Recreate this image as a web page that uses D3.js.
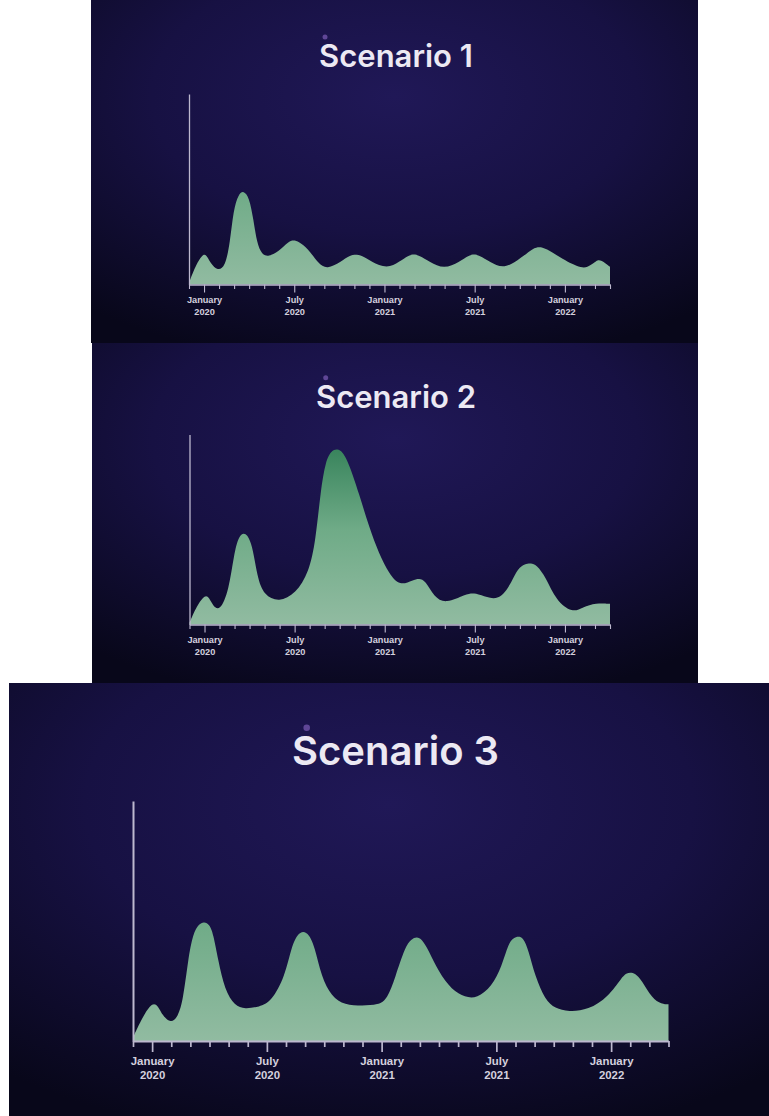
<!DOCTYPE html>
<html>
<head>
<meta charset="utf-8">
<script src="https://cdn.jsdelivr.net/npm/d3@7"></script>
<style>
  html, body { margin: 0; padding: 0; background: #ffffff; }
  svg { display: block; }
</style>
</head>
<body>
<svg id="chart" width="769" height="1116"></svg>
<script>
// ---------------- DATA ----------------
// x = months since January 2020 (Dec 2019 = -1, Apr 2022 = 27); y = relative level (0-100 of axis height)
const titles = ["Scenario 1", "Scenario 2", "Scenario 3"];

const scenario1Months = [-1, -0.5, -0.15, 0.02, 0.2, 0.45, 0.9, 1.4, 1.73, 1.95, 2.29, 2.62, 3.0, 3.29, 3.51, 3.84, 4.29, 5.0, 5.6, 5.95, 6.3, 6.9, 7.6, 8.18, 9.1, 9.7, 10.07, 10.5, 11.1, 12.18, 13.0, 13.6, 13.95, 14.3, 15.0, 15.96, 17.0, 17.6, 17.96, 18.3, 19.0, 19.96, 21.1, 21.9, 22.3, 22.7, 23.8, 25.18, 25.7, 26.1, 26.25, 26.45, 26.7, 27];
const scenario1Values = [1, 11, 15, 15.9, 15, 11, 7.3, 9, 22, 39, 47.5, 49.3, 46, 34, 22, 15.7, 14.5, 17.5, 22.5, 23.3, 22.5, 19, 11, 7.9, 12, 15.2, 15.8, 15.2, 12, 8.2, 12, 15.3, 16, 15.3, 12, 7.9, 12, 15.3, 16, 15.3, 12, 7.9, 14, 19.2, 19.8, 19.2, 13.5, 7.9, 10, 12.5, 12.8, 12.5, 11, 9.3];

const scenario2Months = [-1, -0.5, -0.1, 0.11, 0.3, 0.55, 1.02, 1.62, 1.96, 2.29, 2.73, 3.18, 3.51, 3.96, 4.96, 6.07, 6.96, 7.4, 7.73, 8.07, 8.45, 8.84, 9.2, 9.62, 10.29, 10.96, 11.62, 12.29, 13.0, 13.9, 14.29, 14.7, 15.29, 16.07, 17.4, 17.84, 18.3, 19.62, 20.51, 20.84, 21.35, 21.73, 22.1, 22.73, 23.4, 24.51, 25.18, 26.07, 27];
const scenario2Values = [1, 10, 14.2, 15.2, 14.2, 10, 6.8, 17.9, 37, 47, 48.8, 42.5, 24.9, 15.3, 11.7, 16.2, 27.5, 44.2, 70.5, 86.3, 91.5, 92.5, 91, 84.6, 68.8, 51.2, 37.2, 26.7, 20.2, 23.5, 24.3, 23.2, 14.4, 10.9, 16, 16.5, 16, 11.7, 23.2, 29.3, 31.9, 32.3, 31.5, 24.9, 12.6, 6, 9.1, 11.4, 10.9];

const scenario3Months = [-1, -0.5, -0.1, 0.1, 0.3, 0.55, 0.98, 1.35, 1.62, 1.88, 2.14, 2.45, 2.72, 3.0, 3.19, 3.45, 3.8, 4.32, 4.85, 5.6, 6.24, 6.94, 7.29, 7.6, 7.9, 8.2, 8.5, 8.85, 9.38, 10.07, 11.0, 11.82, 12.3, 12.71, 13.23, 13.55, 13.84, 14.1, 14.45, 14.97, 15.67, 16.37, 16.98, 17.76, 18.28, 18.63, 18.9, 19.15, 19.4, 19.68, 20.03, 20.55, 21.07, 21.77, 22.81, 23.86, 24.56, 24.8, 25.0, 25.25, 25.6, 26.13, 26.65, 27];
const scenario3Values = [1.5, 10, 14.8, 15.6, 14.8, 10.5, 7.4, 10, 17.1, 33.8, 44.9, 48.8, 49.8, 48.5, 44.9, 33.8, 21.2, 14.6, 13.3, 14.2, 16.4, 26.8, 39.3, 44.5, 45.9, 44.5, 39.3, 26.8, 18.5, 15, 14.7, 15, 17.5, 26.5, 39.3, 42.5, 43.5, 42.5, 37.9, 28.9, 21.2, 18.2, 17.8, 22.6, 31, 40.7, 43, 43.6, 43, 37.9, 26.8, 17.1, 13.6, 12.2, 12.9, 18.5, 26.5, 28.2, 28.6, 28.2, 25.4, 17.8, 15.3, 15.3];

const monthTicks = d3.range(-1, 28);             // every month, Dec 2019 .. Apr 2022
const labelMonths = [0, 6, 12, 18, 24];
const labelTop = ["January", "July", "January", "July", "January"];
const labelBottom = ["2020", "2020", "2021", "2021", "2022"];
const xDomain = [-1, 27];
const yDomain = [0, 100];

// ---------------- LAYOUT ----------------
const panels = [
  { months: scenario1Months, values: scenario1Values, title: titles[0],
    rect: {x: 91, y: 0, w: 607, h: 343},
    x0: 189, x1: 610, yBase: 284.5, yTop: 94,
    titleX: 396, titleY: 67, titleSize: 31,
    tickFont: 9.2, dy1: 18, dy2: 30, minor: 4.5, major: 8, sw: 1.3,
    dot: {x: 325, y: 37, r: 2.5} },
  { months: scenario2Months, values: scenario2Values, title: titles[1],
    rect: {x: 92, y: 343, w: 606, h: 340},
    x0: 189.5, x1: 610, yBase: 624.5, yTop: 434.5,
    titleX: 396, titleY: 408, titleSize: 31,
    tickFont: 9.2, dy1: 18, dy2: 30, minor: 4.5, major: 8, sw: 1.3,
    dot: {x: 325.7, y: 377.7, r: 2.5} },
  { months: scenario3Months, values: scenario3Values, title: titles[2],
    rect: {x: 9, y: 683, w: 760, h: 433},
    x0: 133, x1: 668.5, yBase: 1041, yTop: 801,
    titleX: 395.5, titleY: 765, titleSize: 40,
    tickFont: 11.4, dy1: 24, dy2: 38, minor: 6, major: 11, sw: 2,
    dot: {x: 306.7, y: 727.7, r: 3.3} }
];

const svg = d3.select("#chart");
const defs = svg.append("defs");

panels.forEach((p, i) => {
  // background vignette
  const bg = defs.append("radialGradient").attr("id", "bg" + i)
    .attr("cx", "50%").attr("cy", "28%").attr("r", "80%");
  bg.append("stop").attr("offset", "0").attr("stop-color", "#201857");
  bg.append("stop").attr("offset", "0.5").attr("stop-color", "#171143");
  bg.append("stop").attr("offset", "1").attr("stop-color", "#08071a");

  const fg = defs.append("linearGradient").attr("id", "fill" + i)
    .attr("gradientUnits", "userSpaceOnUse")
    .attr("x1", 0).attr("x2", 0).attr("y1", p.yTop).attr("y2", p.yBase);
  fg.append("stop").attr("offset", "0").attr("stop-color", "#2f7d55");
  fg.append("stop").attr("offset", "0.5").attr("stop-color", "#6fab87");
  fg.append("stop").attr("offset", "1").attr("stop-color", "#91bba1");

  const g = svg.append("g");
  g.append("rect").attr("x", p.rect.x).attr("y", p.rect.y)
    .attr("width", p.rect.w).attr("height", p.rect.h)
    .attr("fill", `url(#bg${i})`);

  g.append("circle").attr("cx", p.dot.x).attr("cy", p.dot.y).attr("r", p.dot.r)
    .attr("fill", "#6b4fa3").attr("opacity", 0.85);

  g.append("text")
    .attr("x", p.titleX).attr("y", p.titleY)
    .attr("text-anchor", "middle")
    .attr("font-family", "Inter, 'Open Sans', sans-serif")
    .attr("font-weight", 600)
    .attr("font-size", p.titleSize)
    .attr("fill", "#ece9f3")
    .text(p.title);

  const x = d3.scaleLinear().domain(xDomain).range([p.x0, p.x1]);
  const y = d3.scaleLinear().domain(yDomain).range([p.yBase, p.yTop]);

  const data = p.months.map((m, k) => ({m, v: p.values[k]}));
  const area = d3.area()
    .x(d => x(d.m)).y0(y(0)).y1(d => y(d.v))
    .curve(d3.curveBasis);
  g.append("path").datum(data).attr("d", area).attr("fill", `url(#fill${i})`);

  // x axis
  const xAxis = d3.axisBottom(x).tickValues(monthTicks)
    .tickSize(p.minor).tickSizeOuter(0).tickFormat("");
  const ax = g.append("g").attr("transform", `translate(0,${p.yBase})`).call(xAxis);
  ax.select(".domain").attr("stroke", "#bdb8cf").attr("stroke-width", p.sw);
  ax.selectAll(".tick line").attr("stroke", "#bdb8cf").attr("stroke-width", p.sw * 0.85)
    .attr("y2", d => labelMonths.includes(d) ? p.major : p.minor);
  ax.selectAll(".tick text").remove();
  ax.selectAll(".tick").filter(d => labelMonths.includes(d)).each(function(d) {
    const k = labelMonths.indexOf(d);
    const t = d3.select(this).append("text")
      .attr("fill", "#d4d0de")
      .attr("font-family", "'Liberation Sans', Arial, sans-serif")
      .attr("font-weight", 700)
      .attr("font-size", p.tickFont)
      .attr("text-anchor", "middle");
    t.append("tspan").attr("x", 0).attr("y", p.dy1).text(labelTop[k]);
    t.append("tspan").attr("x", 0).attr("y", p.dy2).text(labelBottom[k]);
  });

  // y axis (plain line)
  const yAxis = d3.axisLeft(y).tickValues([]).tickSizeOuter(0);
  const ay = g.append("g").attr("transform", `translate(${p.x0},0)`).call(yAxis);
  ay.select(".domain").attr("stroke", "#bdb8cf").attr("stroke-width", p.sw);
});
</script>
</body>
</html>
